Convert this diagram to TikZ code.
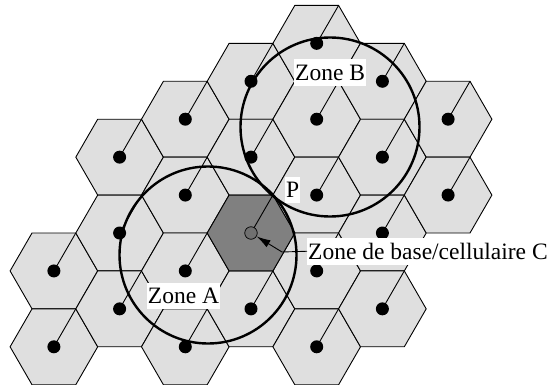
\documentclass[tikz,border=0pt]{standalone}
\usepackage{fontspec}
\setmainfont{Liberation Serif}
\usetikzlibrary{arrows.meta}
\definecolor{cellfill}{HTML}{DFDFDF}
\definecolor{basefill}{HTML}{808080}
\definecolor{stationgrey}{HTML}{707070}
\begin{document}
\begin{tikzpicture}[x=1pt,y=-1pt,
  cell/.style={draw=black, line width=0.9pt, fill=cellfill, line join=miter},
  basecell/.style={cell, fill=basefill},
  station/.style={circle, fill=black, inner sep=0pt, minimum size=13pt},
  basestation/.style={circle, draw=black, line width=0.7pt, fill=stationgrey, inner sep=0pt, minimum size=12.5pt},
  feeder/.style={line width=0.9pt},
  zone/.style={circle, draw=black, line width=2.4pt, inner sep=0pt},
  tag/.style={fill=white, inner xsep=1pt, inner ysep=2.5pt, text height=18.5pt, text depth=3pt,
              font=\fontsize{23.5}{28}\selectfont, anchor=base west},
  pointer/.style={line width=0.9pt, -{Latex[length=14pt,width=8pt]}},
]
\useasboundingbox (0,0) rectangle (551,385);

% hexagonal cells: column index / half-row offset from the base cell
\def\cells{-3/1,-3/3,-2/-2,-2/0,-2/2,-1/-3,-1/-1,-1/1,-1/3,0/-4,0/-2,0/2,
  1/-5,1/-3,1/-1,1/1,1/3,2/-4,2/-2,2/0,2/2,3/-3,3/-1}
\foreach \c/\k in \cells {
  \pgfmathsetmacro\cx{251+\c*65.7}
  \pgfmathsetmacro\cy{233+\k*37.93}
  \draw[cell, shift={(\cx,\cy)}] (-43.8,0) -- (-21.9,-37.93) -- (21.9,-37.93)
    -- (43.8,0) -- (21.9,37.93) -- (-21.9,37.93) -- cycle;
}
% base cell C
\draw[basecell, shift={(251,233)}] (-43.8,0) -- (-21.9,-37.93) -- (21.9,-37.93)
  -- (43.8,0) -- (21.9,37.93) -- (-21.9,37.93) -- cycle;

% feeders from each station to the upper right corner of its cell
\foreach \c/\k in \cells {
  \pgfmathsetmacro\cx{251+\c*65.7}
  \pgfmathsetmacro\cy{233+\k*37.93}
  \coordinate (st\c x\k) at (\cx,\cy);
  \draw[feeder] (st\c x\k) -- ++(21.9,-37.93);
}
\coordinate (bscentre) at (251,233);
\draw[feeder] (bscentre) -- ++(21.9,-37.93);

% stations
\foreach \c/\k in \cells {
  \node[station] (stn\c x\k) at (st\c x\k) {};
}
\node[basestation] (bs) at (bscentre) {};

% zones
\node[zone, minimum size=177pt] (zoneA) at (208,255) {};
\node[zone, minimum size=179pt] (zoneB) at (330,127) {};

% labels
\node[tag] (lblA) at (146.7,303.7) {Zone A};
\node[tag] (lblB) at (294,80.3) {Zone B};
\node[tag] (lblP) at (285,197.7) {P};
\node[tag] (lblC) at (307,259) {Zone de base/cellulaire C};

\coordinate (bend) at (282,252);
\draw[pointer] (lblC.west) -- (bend) -- (bs);
\end{tikzpicture}
\end{document}
